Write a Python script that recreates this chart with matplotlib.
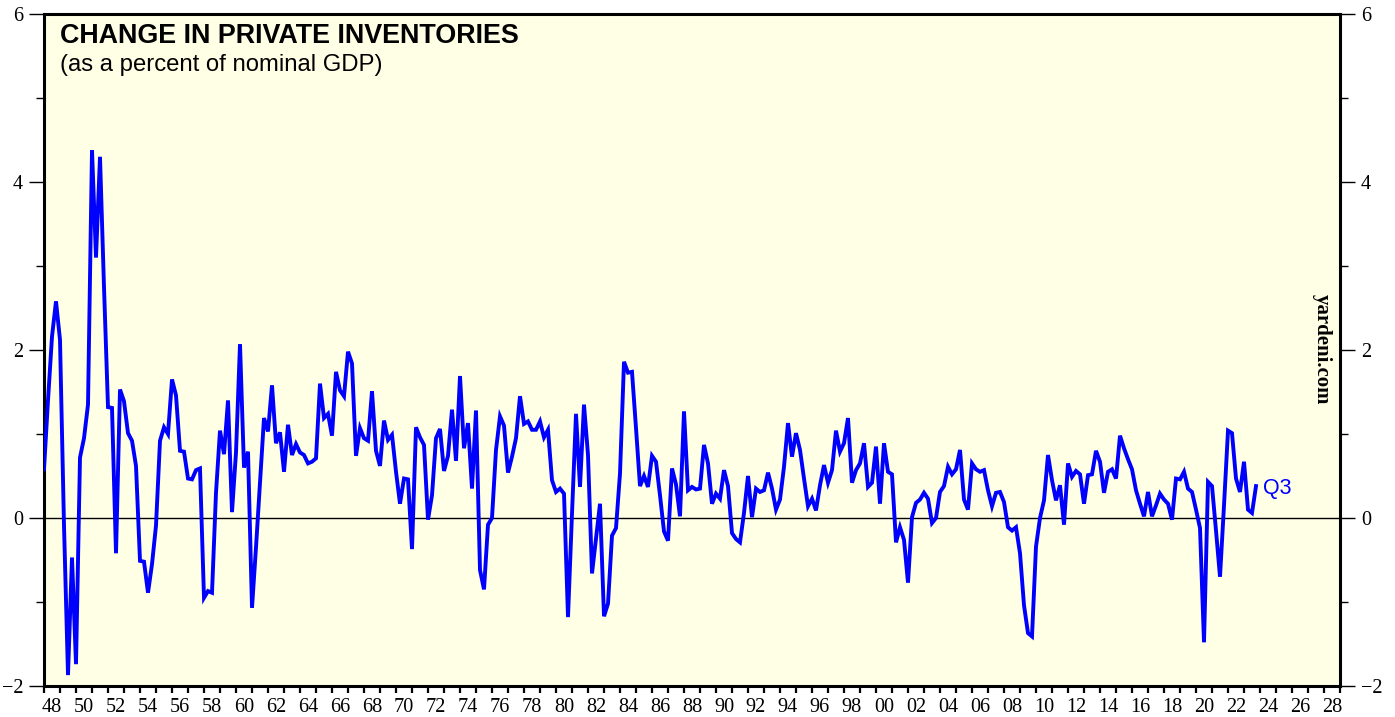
import numpy as np
import pandas as pd
import matplotlib.pyplot as plt
from matplotlib.ticker import FixedLocator, FixedFormatter, MultipleLocator

# Change in private inventories, % of nominal GDP, quarterly from 1947 Q4
cipi_1948_1960 = [0.58, 1.40, 2.16, 2.58, 2.12, -0.09, -1.87, -0.47, -1.74, 0.72,
                  0.95, 1.35, 4.38, 3.10, 4.30, 2.75, 1.32, 1.31, -0.42, 1.53,
                  1.39, 1.01, 0.92, 0.62, -0.51, -0.52, -0.89, -0.55, -0.09, 0.92,
                  1.08, 1.00, 1.65, 1.46, 0.80, 0.79, 0.47, 0.46, 0.57, 0.59,
                  -0.95, -0.87, -0.89, 0.30, 1.04, 0.76, 1.40, 0.07, 0.78, 2.07,
                  0.60, 0.79, -1.07]
cipi_1961_1974 = [-0.35, 0.42, 1.19, 1.03, 1.58, 0.89, 1.02, 0.55, 1.11, 0.75,
                  0.88, 0.78, 0.75, 0.65, 0.67, 0.71, 1.60, 1.19, 1.24, 0.98,
                  1.74, 1.52, 1.45, 1.98, 1.84, 0.74, 1.07, 0.95, 0.92, 1.51,
                  0.80, 0.62, 1.16, 0.93, 0.99, 0.55, 0.17, 0.47, 0.46, -0.37,
                  1.08, 0.96, 0.87, -0.02, 0.27, 0.95, 1.06, 0.56, 0.74, 1.29,
                  0.68, 1.69, 0.83, 1.13]
cipi_1974_1987 = [0.35, 1.28, -0.62, -0.85, -0.08, 0.00, 0.81, 1.21, 1.10, 0.54,
                  0.73, 0.95, 1.45, 1.12, 1.15, 1.05, 1.05, 1.15, 0.96, 1.05,
                  0.45, 0.31, 0.35, 0.29, -1.18, 0.05, 1.24, 0.37, 1.35, 0.75,
                  -0.66, -0.24, 0.17, -1.17, -1.02, -0.21, -0.12, 0.53, 1.86, 1.73,
                  1.74, 1.07, 0.38, 0.50, 0.37, 0.74, 0.67, 0.27, -0.16, -0.27,
                  0.59]
cipi_1987_2000 = [0.40, 0.02, 1.27, 0.33, 0.37, 0.34, 0.35, 0.87, 0.65, 0.17,
                  0.29, 0.23, 0.57, 0.38, -0.18, -0.25, -0.29, 0.06, 0.50, 0.01,
                  0.35, 0.31, 0.33, 0.54, 0.35, 0.10, 0.22, 0.61, 1.13, 0.73,
                  1.01, 0.81, 0.47, 0.14, 0.23, 0.09, 0.39, 0.63, 0.42, 0.57,
                  1.04, 0.79, 0.89, 1.19, 0.42, 0.57, 0.65, 0.89, 0.37, 0.42,
                  0.85, 0.17, 0.89, 0.55]
cipi_2001_2013 = [0.52, -0.29, -0.11, -0.26, -0.77, 0.01, 0.18, 0.22, 0.30, 0.23,
                  -0.06, 0.00, 0.31, 0.38, 0.61, 0.52, 0.58, 0.81, 0.22, 0.10,
                  0.65, 0.58, 0.55, 0.57, 0.33, 0.14, 0.30, 0.31, 0.19, -0.11,
                  -0.15, -0.11, -0.42, -1.04, -1.37, -1.41, -0.34, 0.00, 0.21, 0.75,
                  0.45, 0.21, 0.39, -0.08, 0.65, 0.49, 0.56, 0.52, 0.17, 0.51,
                  0.52, 0.80]
cipi_2014_2023 = [0.67, 0.30, 0.55, 0.58, 0.47, 0.98, 0.83, 0.70, 0.58, 0.33,
                  0.17, 0.02, 0.31, 0.02, 0.15, 0.29, 0.22, 0.17, -0.02, 0.47,
                  0.46, 0.55, 0.35, 0.31, 0.10, -0.12, -1.48, 0.43, 0.38, -0.15,
                  -0.70, 0.15, 1.04, 1.01, 0.47, 0.31, 0.67, 0.10, 0.06, 0.38]

values = np.array(cipi_1948_1960 + cipi_1961_1974 + cipi_1974_1987
                  + cipi_1987_2000 + cipi_2001_2013 + cipi_2014_2023)
periods = pd.period_range("1947Q4", periods=len(values), freq="Q")
t = periods.year + periods.quarter / 4.0  # plotted at end of quarter

label_years = np.arange(1948, 2029, 2)
year_labels = [f"{y % 100:02d}" for y in label_years]
y_major = [-2, 0, 2, 4, 6]

fig = plt.figure(figsize=(13.95, 7.17), dpi=100)
ax = fig.add_axes([44 / 1395, 31 / 717, 1296 / 1395, 672 / 717])
ax.set_facecolor("#FFFFE6")

ax.axhline(0, color="black", lw=1.0, zorder=1)
ax.plot(t, values, color="#0000FF", lw=2.8, solid_joinstyle="miter", zorder=3)

ax.set_xlim(1948, 2029)
ax.set_ylim(-2, 6)

# x axis: a tick every year, labels centred in the year
ax.xaxis.set_major_locator(MultipleLocator(1))
ax.xaxis.set_major_formatter(FixedFormatter([]))
ax.xaxis.set_minor_locator(FixedLocator(label_years + 0.5))
ax.xaxis.set_minor_formatter(FixedFormatter(year_labels))
ax.tick_params(axis="x", which="major", direction="out", length=5, width=1.6,
               colors="black")
ax.tick_params(axis="x", which="minor", length=0, pad=9, labelsize=14.6)

# y axis on both sides
ax.yaxis.set_major_locator(FixedLocator(y_major))
ax.yaxis.set_minor_locator(MultipleLocator(1))
ax.tick_params(axis="y", which="both", direction="out", left=True, right=True,
               labelleft=True, labelright=True, width=1.0)
ax.tick_params(axis="y", which="major", length=11, pad=4, labelsize=14.6)
ax.tick_params(axis="y", which="minor", length=5.5)

for lab in ax.get_xticklabels(minor=True) + ax.get_yticklabels():
    lab.set_fontfamily("Liberation Serif")
for lab in ax.yaxis.get_ticklabels(which="major"):
    lab.set_fontfamily("Liberation Serif")

for sp in ax.spines.values():
    sp.set_linewidth(2.2)
    sp.set_color("black")

ax.text(16 / 1296, 0.9568, "CHANGE IN PRIVATE INVENTORIES", transform=ax.transAxes,
        fontsize=19.4, fontweight="bold", family="Liberation Sans", va="baseline")
ax.text(16 / 1296, 0.9152, "(as a percent of nominal GDP)", transform=ax.transAxes,
        fontsize=17.2, family="Liberation Sans", va="baseline")
ax.text(0.986, 0.5015, "yardeni.com", transform=ax.transAxes, rotation=-90,
        fontsize=15, fontweight="bold", family="Liberation Serif",
        ha="center", va="center")
ax.annotate("Q3", xy=(t[-1], values[-1]), xytext=(5, -2), textcoords="offset points",
            color="#0000FF", fontsize=15.5, family="Liberation Sans",
            ha="left", va="center")

fig.savefig("out.png", dpi=100)
